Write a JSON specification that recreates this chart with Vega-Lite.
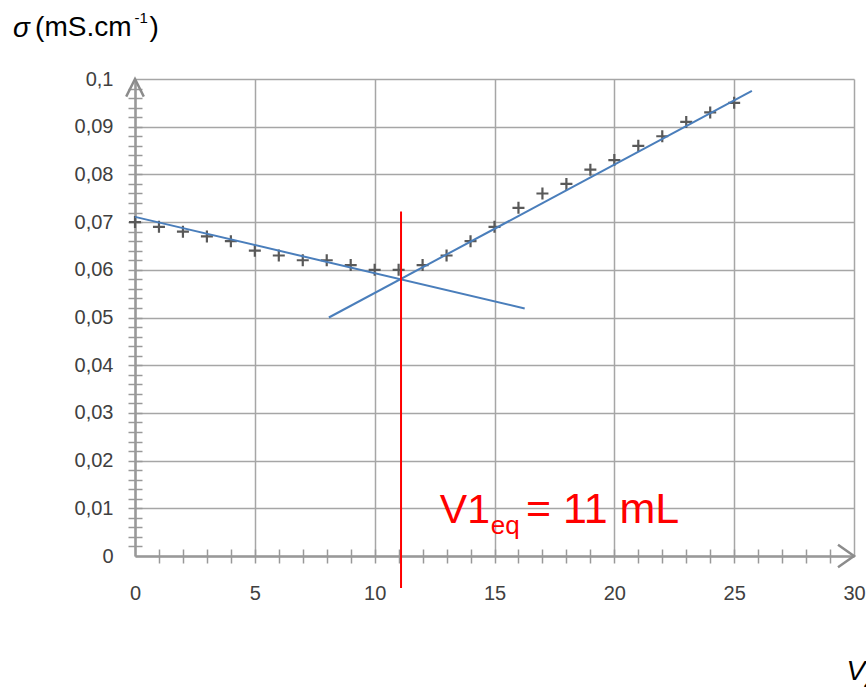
{
  "$schema": "https://vega.github.io/schema/vega-lite/v6.json",
  "width": 719,
  "height": 477,
  "autosize": "none",
  "padding": {"left": 135, "top": 79, "right": 12, "bottom": 132},
  "background": "white",
  "config": {"view": {"stroke": null}},
  "datasets": {
    "points": [
      {"V": 0, "sigma": 0.070}, {"V": 1, "sigma": 0.069}, {"V": 2, "sigma": 0.068},
      {"V": 3, "sigma": 0.067}, {"V": 4, "sigma": 0.066}, {"V": 5, "sigma": 0.064},
      {"V": 6, "sigma": 0.063}, {"V": 7, "sigma": 0.062}, {"V": 8, "sigma": 0.062},
      {"V": 9, "sigma": 0.061}, {"V": 10, "sigma": 0.060}, {"V": 11, "sigma": 0.060},
      {"V": 12, "sigma": 0.061}, {"V": 13, "sigma": 0.063}, {"V": 14, "sigma": 0.066},
      {"V": 15, "sigma": 0.069}, {"V": 16, "sigma": 0.073}, {"V": 17, "sigma": 0.076},
      {"V": 18, "sigma": 0.078}, {"V": 19, "sigma": 0.081}, {"V": 20, "sigma": 0.083},
      {"V": 21, "sigma": 0.086}, {"V": 22, "sigma": 0.088}, {"V": 23, "sigma": 0.091},
      {"V": 24, "sigma": 0.093}, {"V": 25, "sigma": 0.095}
    ],
    "fits": [
      {"seg": "a", "V": 0, "sigma": 0.0711},
      {"seg": "a", "V": 16.26, "sigma": 0.0519},
      {"seg": "b", "V": 8.09, "sigma": 0.050},
      {"seg": "b", "V": 25.74, "sigma": 0.0975}
    ]
  },
  "layer": [
    {
      "data": {"name": "points"},
      "mark": {"type": "point", "shape": "M-1,0H1M0,-1V1", "size": 144, "filled": false, "stroke": "#595959", "strokeWidth": 2.2, "opacity": 1},
      "encoding": {
        "x": {"field": "V", "type": "quantitative", "scale": {"domain": [0, 30], "nice": false},
          "axis": {"orient": "bottom", "values": [0, 5, 10, 15, 20, 25, 30], "grid": true, "gridColor": "#a6a6a6", "gridWidth": 1.5, "ticks": false,
            "domainColor": "#999999", "domainWidth": 2.5, "labelFont": "Liberation Sans, sans-serif",
            "labelFontSize": 20, "labelColor": "#404040", "labelPadding": 27, "labelFlush": false, "labelOverlap": false, "title": null}},
        "y": {"field": "sigma", "type": "quantitative", "scale": {"domain": [0, 0.1], "nice": false},
          "axis": {"orient": "left", "values": [0, 0.01, 0.02, 0.03, 0.04, 0.05, 0.06, 0.07, 0.08, 0.09, 0.1], "grid": true, "gridColor": "#a6a6a6", "gridWidth": 1.5, "ticks": false,
            "domainColor": "#999999", "domainWidth": 2.5, "labelFont": "Liberation Sans, sans-serif",
            "labelFontSize": 20, "labelColor": "#404040", "labelPadding": 22, "labelFlush": false, "labelOverlap": false, "title": null,
            "labelExpr": "replace(format(datum.value, '.2~f'), '.', ',')"}}
      }
    },
    {
      "data": {"name": "fits"},
      "mark": {"type": "line", "color": "#4A7EBB", "strokeWidth": 2},
      "encoding": {
        "x": {"field": "V", "type": "quantitative", "scale": {"domain": [0, 30], "nice": false},
          "axis": {"orient": "bottom", "values": [1,2,3,4,5,6,7,8,9,10,11,12,13,14,15,16,17,18,19,20,21,22,23,24,25,26,27,28,29], "grid": false, "labels": false, "domain": false,
            "ticks": true, "tickSize": 14, "offset": -7, "tickColor": "#999999", "tickWidth": 1.5, "title": null}},
        "y": {"field": "sigma", "type": "quantitative", "scale": {"domain": [0, 0.1], "nice": false},
          "axis": {"orient": "left", "values": [0.002,0.004,0.006,0.008,0.01,0.012,0.014,0.016,0.018,0.02,0.022,0.024,0.026,0.028,0.03,0.032,0.034,0.036,0.038,0.04,0.042,0.044,0.046,0.048,0.05,0.052,0.054,0.056,0.058,0.06,0.062,0.064,0.066,0.068,0.07,0.072,0.074,0.076,0.078,0.08,0.082,0.084,0.086,0.088,0.09,0.092,0.094,0.096,0.098],
            "grid": false, "labels": false, "domain": false, "ticks": true, "tickSize": 14, "offset": -7, "tickColor": "#999999", "tickWidth": 1.5, "title": null}},
        "detail": {"field": "seg", "type": "nominal"}
      }
    },
    {
      "data": {"values": [{"label": "x"}]},
      "mark": {"type": "rule", "color": "#FF0000", "strokeWidth": 2},
      "encoding": {
        "x": {"datum": 11.1, "type": "quantitative", "scale": {"domain": [0, 30], "nice": false}, "axis": null},
        "y": {"datum": 0.0722, "type": "quantitative", "scale": {"domain": [0, 0.1], "nice": false}, "axis": null},
        "y2": {"datum": -0.0067}
      }
    },
    {
      "data": {"values": [{"label": "x"}]},
      "mark": {"type": "point", "shape": "M-2,-1.4L0,0L-2,1.4", "size": 256, "filled": false, "stroke": "#8c8c8c", "strokeWidth": 2.5, "opacity": 1},
      "encoding": {
        "x": {"datum": 30, "type": "quantitative", "scale": {"domain": [0, 30], "nice": false}, "axis": null},
        "y": {"datum": 0, "type": "quantitative", "scale": {"domain": [0, 0.1], "nice": false}, "axis": null}
      }
    },
    {
      "data": {"values": [{"label": "y"}]},
      "mark": {"type": "point", "shape": "M-1.1,2.2L0,0L1.1,2.2", "size": 256, "filled": false, "stroke": "#8c8c8c", "strokeWidth": 2.5, "opacity": 1},
      "encoding": {
        "x": {"datum": 0, "type": "quantitative", "scale": {"domain": [0, 30], "nice": false}, "axis": null},
        "y": {"datum": 0.1, "type": "quantitative", "scale": {"domain": [0, 0.1], "nice": false}, "axis": null}
      }
    },
    {
      "data": {"values": [{"label": "V1"}]},
      "mark": {"type": "text", "align": "left", "baseline": "alphabetic", "font": "Liberation Sans, sans-serif", "fontSize": 41, "color": "#FF0000"},
      "encoding": {
        "x": {"datum": 12.72, "type": "quantitative", "scale": {"domain": [0, 30], "nice": false}, "axis": null},
        "y": {"datum": 0.0069, "type": "quantitative", "scale": {"domain": [0, 0.1], "nice": false}, "axis": null},
        "text": {"field": "label"}
      }
    },
    {
      "data": {"values": [{"label": "eq"}]},
      "mark": {"type": "text", "align": "left", "baseline": "alphabetic", "font": "Liberation Sans, sans-serif", "fontSize": 26, "color": "#FF0000"},
      "encoding": {
        "x": {"datum": 14.84, "type": "quantitative", "scale": {"domain": [0, 30], "nice": false}, "axis": null},
        "y": {"datum": 0.0047, "type": "quantitative", "scale": {"domain": [0, 0.1], "nice": false}, "axis": null},
        "text": {"field": "label"}
      }
    },
    {
      "data": {"values": [{"label": "= 11 mL"}]},
      "mark": {"type": "text", "align": "left", "baseline": "alphabetic", "font": "Liberation Sans, sans-serif", "fontSize": 43, "color": "#FF0000"},
      "encoding": {
        "x": {"datum": 16.31, "type": "quantitative", "scale": {"domain": [0, 30], "nice": false}, "axis": null},
        "y": {"datum": 0.0069, "type": "quantitative", "scale": {"domain": [0, 0.1], "nice": false}, "axis": null},
        "text": {"field": "label"}
      }
    },
    {
      "data": {"values": [{"label": "σ"}]},
      "mark": {"type": "text", "align": "left", "baseline": "alphabetic", "font": "Liberation Sans, sans-serif", "fontSize": 28, "fontStyle": "italic", "color": "#000000"},
      "encoding": {
        "x": {"datum": -5.09, "type": "quantitative", "scale": {"domain": [0, 30], "nice": false}, "axis": null},
        "y": {"datum": 0.1089, "type": "quantitative", "scale": {"domain": [0, 0.1], "nice": false}, "axis": null},
        "text": {"field": "label"}
      }
    },
    {
      "data": {"values": [{"label": "(mS.cm"}]},
      "mark": {"type": "text", "align": "left", "baseline": "alphabetic", "font": "Liberation Sans, sans-serif", "fontSize": 28, "color": "#000000"},
      "encoding": {
        "x": {"datum": -4.17, "type": "quantitative", "scale": {"domain": [0, 30], "nice": false}, "axis": null},
        "y": {"datum": 0.109, "type": "quantitative", "scale": {"domain": [0, 0.1], "nice": false}, "axis": null},
        "text": {"field": "label"}
      }
    },
    {
      "data": {"values": [{"label": "-1"}]},
      "mark": {"type": "text", "align": "left", "baseline": "alphabetic", "font": "Liberation Sans, sans-serif", "fontSize": 15, "color": "#000000"},
      "encoding": {
        "x": {"datum": -0.02, "type": "quantitative", "scale": {"domain": [0, 30], "nice": false}, "axis": null},
        "y": {"datum": 0.1118, "type": "quantitative", "scale": {"domain": [0, 0.1], "nice": false}, "axis": null},
        "text": {"field": "label"}
      }
    },
    {
      "data": {"values": [{"label": ")"}]},
      "mark": {"type": "text", "align": "left", "baseline": "alphabetic", "font": "Liberation Sans, sans-serif", "fontSize": 28, "color": "#000000"},
      "encoding": {
        "x": {"datum": 0.6, "type": "quantitative", "scale": {"domain": [0, 30], "nice": false}, "axis": null},
        "y": {"datum": 0.109, "type": "quantitative", "scale": {"domain": [0, 0.1], "nice": false}, "axis": null},
        "text": {"field": "label"}
      }
    },
    {
      "data": {"values": [{"label": "V"}]},
      "mark": {"type": "text", "align": "left", "baseline": "alphabetic", "font": "Liberation Sans, sans-serif", "fontSize": 28, "fontStyle": "italic", "color": "#000000"},
      "encoding": {
        "x": {"datum": 29.69, "type": "quantitative", "scale": {"domain": [0, 30], "nice": false}, "axis": null},
        "y": {"datum": -0.0261, "type": "quantitative", "scale": {"domain": [0, 0.1], "nice": false}, "axis": null},
        "text": {"field": "label"}
      }
    },
    {
      "data": {"values": [{"label": "2"}]},
      "mark": {"type": "text", "align": "left", "baseline": "alphabetic", "font": "Liberation Sans, sans-serif", "fontSize": 20, "fontStyle": "italic", "color": "#000000"},
      "encoding": {
        "x": {"datum": 30.43, "type": "quantitative", "scale": {"domain": [0, 30], "nice": false}, "axis": null},
        "y": {"datum": -0.0275, "type": "quantitative", "scale": {"domain": [0, 0.1], "nice": false}, "axis": null},
        "text": {"field": "label"}
      }
    }
  ],
  "resolve": {"axis": {"x": "independent", "y": "independent"}}
}
